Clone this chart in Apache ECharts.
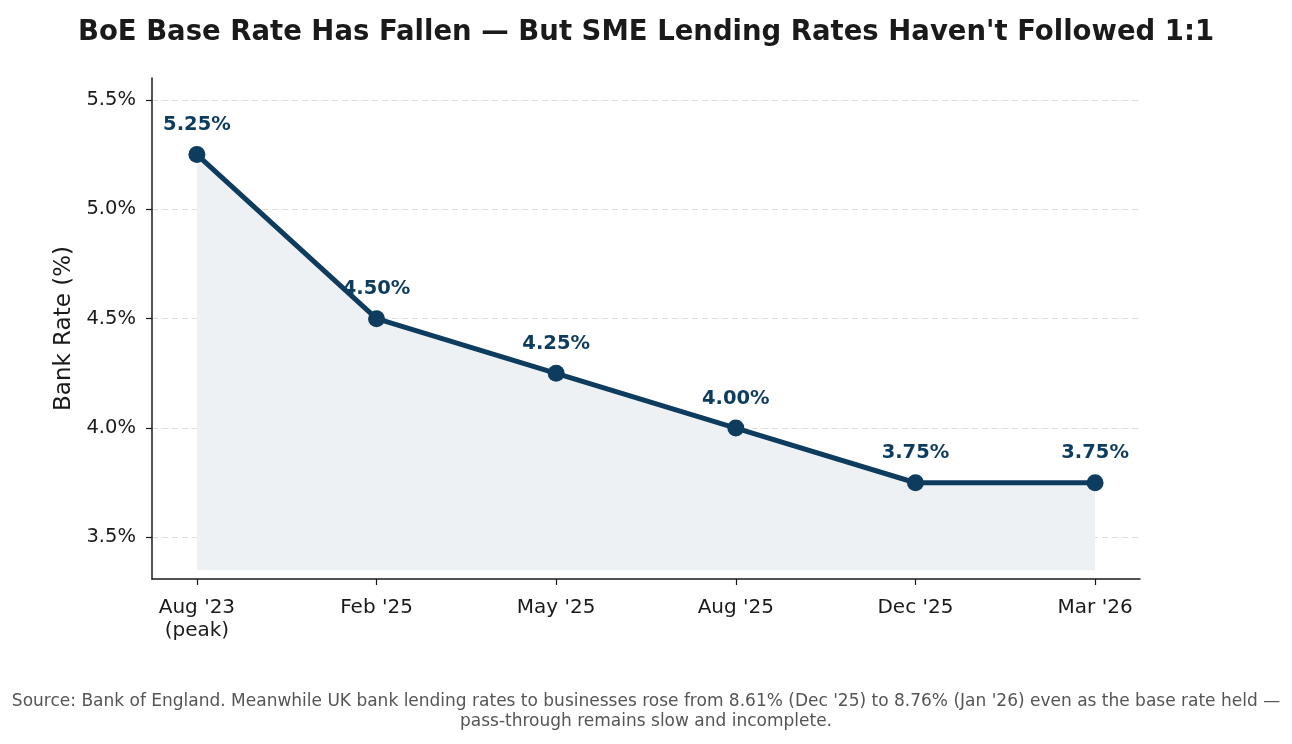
<!DOCTYPE html>
<html>
<head>
<meta charset="utf-8">
<script src="https://cdn.jsdelivr.net/npm/echarts@6/dist/echarts.min.js"></script>
<style>
  html, body { margin: 0; padding: 0; background: #fff; }
  #chart { width: 1292px; height: 744px; }
</style>
</head>
<body>
<div id="chart"></div>
<script>
// data
const categories = ["Aug '23\n(peak)", "Feb '25", "May '25", "Aug '25", "Dec '25", "Mar '26"]
const bankRate = [5.25, 4.5, 4.25, 4.0, 3.75, 3.75]
const yTicks = [3.5, 4.0, 4.5, 5.0, 5.5]
const xTicks = [0, 1, 2, 3, 4, 5]

const navy = '#0d3c5e'
const font = "'DejaVu Sans', sans-serif"

const seriesData = bankRate.map((v, i) => [i, v])

const myChart = echarts.init(document.getElementById('chart'))

const options = {
  backgroundColor: '#fff',
  animation: false,
  title: [
    {
      text: "BoE Base Rate Has Fallen — But SME Lending Rates Haven't Followed 1:1",
      left: 'center',
      top: 14,
      textStyle: { fontFamily: font, fontWeight: 'bold', fontSize: 27.5, color: '#1a1a1a' }
    },
    {
      text: "Source: Bank of England. Meanwhile UK bank lending rates to businesses rose from 8.61% (Dec '25) to 8.76% (Jan '26) even as the base rate held —\npass-through remains slow and incomplete.",
      left: 'center',
      top: 687,
      textStyle: { fontFamily: font, fontWeight: 'normal', fontSize: 17, color: '#555', lineHeight: 20, align: 'center' }
    }
  ],
  grid: {
    left: 152,
    right: 152,
    top: 78,
    bottom: 165
  },
  xAxis: {
    type: 'value',
    min: -0.25,
    max: 5.25,
    axisLine: { show: true, onZero: false, lineStyle: { color: '#1a1a1a', width: 1.5 } },
    axisTick: { show: true, customValues: xTicks, length: 6, lineStyle: { color: '#1a1a1a', width: 1.2 } },
    axisLabel: {
      customValues: xTicks,
      formatter: function(value) {
        return categories[Math.round(value)]
      },
      fontFamily: font,
      fontSize: 20,
      color: '#1a1a1a',
      margin: 17,
      lineHeight: 23
    },
    splitLine: { show: false }
  },
  yAxis: {
    type: 'value',
    min: 3.31,
    max: 5.6,
    name: 'Bank Rate (%)',
    nameLocation: 'middle',
    nameGap: 74,
    nameTextStyle: { fontFamily: font, fontSize: 23, color: '#1a1a1a' },
    axisLine: { show: true, onZero: false, lineStyle: { color: '#1a1a1a', width: 1.5 } },
    axisTick: { show: true, customValues: yTicks, length: 6, lineStyle: { color: '#1a1a1a', width: 1.2 } },
    axisLabel: {
      customValues: yTicks,
      formatter: function(value) {
        return value.toFixed(1) + '%'
      },
      fontFamily: font,
      fontSize: 19.5,
      color: '#1a1a1a',
      margin: 16
    },
    splitLine: {
      show: true,
      lineStyle: { color: '#dcdcdc', type: [6, 4], width: 1 }
    }
  },
  series: [
    {
      type: 'line',
      data: seriesData,
      symbol: 'circle',
      symbolSize: 17,
      lineStyle: { color: navy, width: 5 },
      itemStyle: { color: navy },
      areaStyle: { color: '#edf1f4', opacity: 1, origin: 3.35 },
      label: {
        show: true,
        position: 'top',
        distance: 11,
        formatter: function(p) {
          return p.value[1].toFixed(2) + '%'
        },
        fontFamily: font,
        fontWeight: 'bold',
        fontSize: 19.5,
        color: navy
      },
      z: 3
    }
  ]
}

myChart.setOption(options)
</script>
</body>
</html>
